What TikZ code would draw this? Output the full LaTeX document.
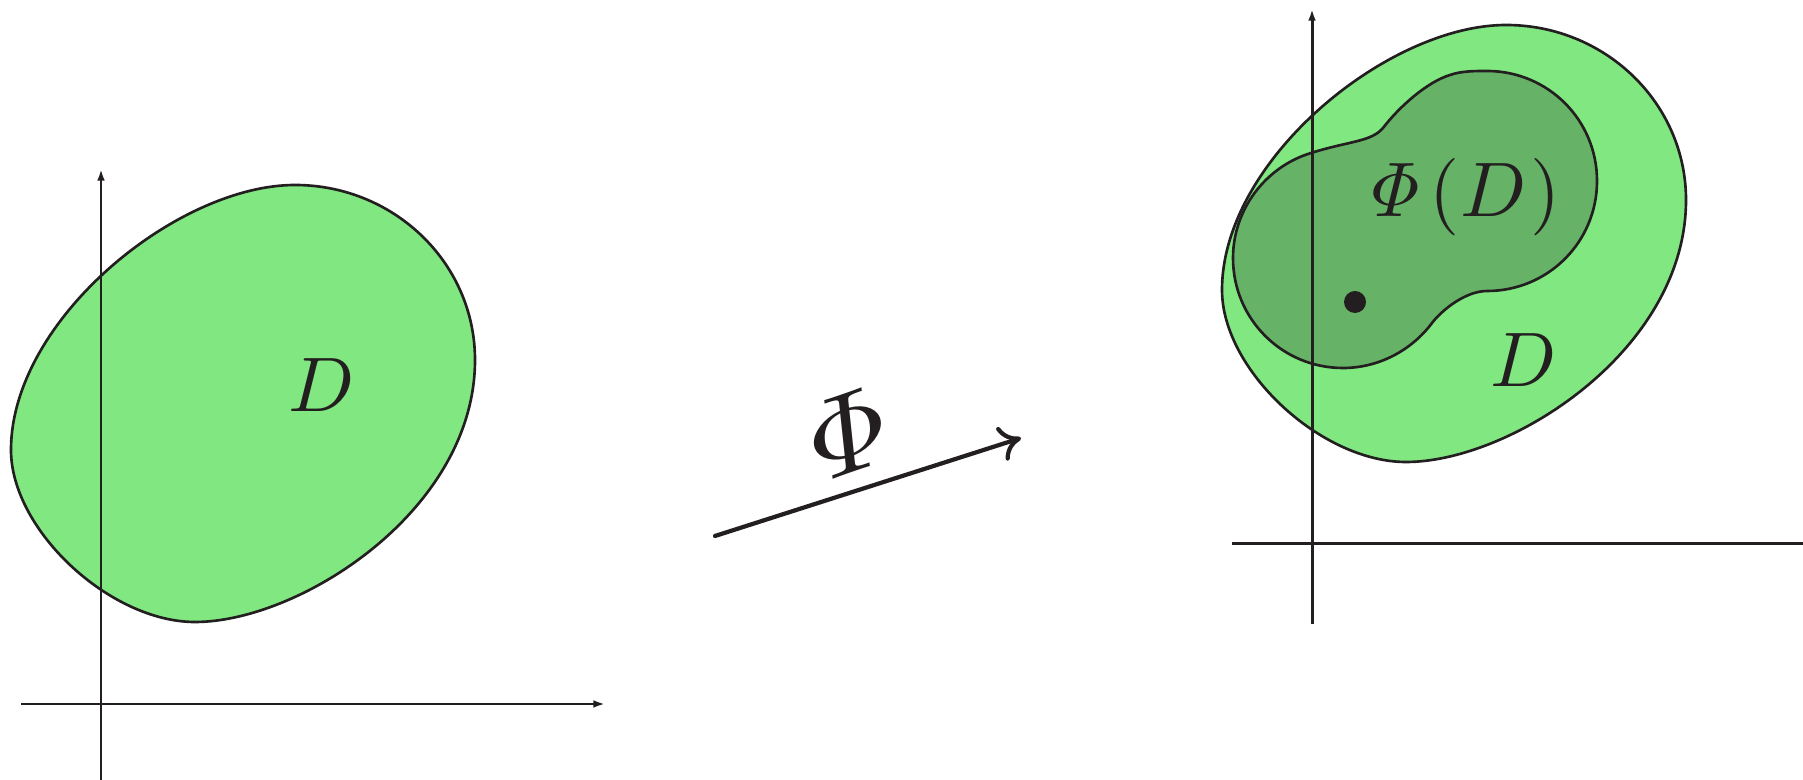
\documentclass[tikz,border=0pt]{standalone}
\usetikzlibrary{arrows.meta}

\definecolor{inkblack}{RGB}{35,31,32}
\definecolor{lightgreen}{RGB}{129,231,129}
\definecolor{darkgreen}{RGB}{102,178,102}

\tikzset{
  axis/.style={line width=0.85pt, draw=inkblack, -{Latex[length=3.3pt,width=2.2pt]}},
  region/.style={line width=0.75pt, draw=inkblack},
  maparrow/.style={line width=1.2pt, draw=inkblack, line cap=round, -{Computer Modern Rightarrow[length=6pt,width=10pt]}},
  lbl/.style={inner sep=0pt, text=inkblack, scale=2.2},
}

\begin{document}
\begin{tikzpicture}[x=0.01cm, y=-0.01cm]
    \clip (0,0) rectangle (1803,780);

    % Gebied D (links en rechts)
    \foreach \sx/\sy in {0/0, 1211/-160}
      \filldraw[region, fill=lightgreen, shift={(\sx,\sy)}]
        (11,450) .. controls (11,320) and (177,185) .. (295,185)
        .. controls (394,185) and (475,263) .. (475,360)
        .. controls (475,510) and (300,622) .. (195,622)
        .. controls (110,622) and (11,530) .. (11,450) -- cycle;

    % Beeld Phi(D)
    \filldraw[region, fill=darkgreen]
        (1343,368) .. controls (1282,368) and (1233,319) .. (1233,258)
        .. controls (1233,210) and (1265,167) .. (1311,153)
        .. controls (1349,141) and (1371,142) .. (1383,128)
        .. controls (1399,107) and (1427,82) .. (1450,75)
        .. controls (1461,71) and (1475,71) .. (1487,71)
        .. controls (1548,71) and (1597,120) .. (1597,181)
        .. controls (1597,242) and (1548,291) .. (1487,291)
        .. controls (1465,291) and (1441,311) .. (1432,323)
        .. controls (1411,351) and (1378,368) .. (1343,368) -- cycle;

    % Assen
    \foreach \sx/\sy in {0/0, 1211/-160}{
      \draw[axis, shift={(\sx,\sy)}] (21,704) -- (605,704);
      \draw[axis, shift={(\sx,\sy)}] (101,784) -- (101,169);
    }

    % Punt
    \fill[inkblack] (1355,302) circle (11);

    % Labels
    \node[lbl, anchor=base] (labelD) at (322,412) {$D$};
    \node[lbl, anchor=base] (labelDimg) at (1524,387) {$D$};
    \node[lbl, anchor=base] (labelPhiD) at (1461,217) {$\mathit{\Phi}\mkern2mu(D\mkern1mu)$};

    % Afbeelding Phi
    \coordinate (mapstart) at (715,536);
    \coordinate (mapend) at (1021,438);
    \draw[maparrow] (mapstart) -- (mapend);
    \node[inner sep=0pt, text=inkblack,
          cm={3.12,1.08,-0.35,3.28,(0,0)}] (phi) at (848,433) {$\Phi$};
\end{tikzpicture}
\end{document}
